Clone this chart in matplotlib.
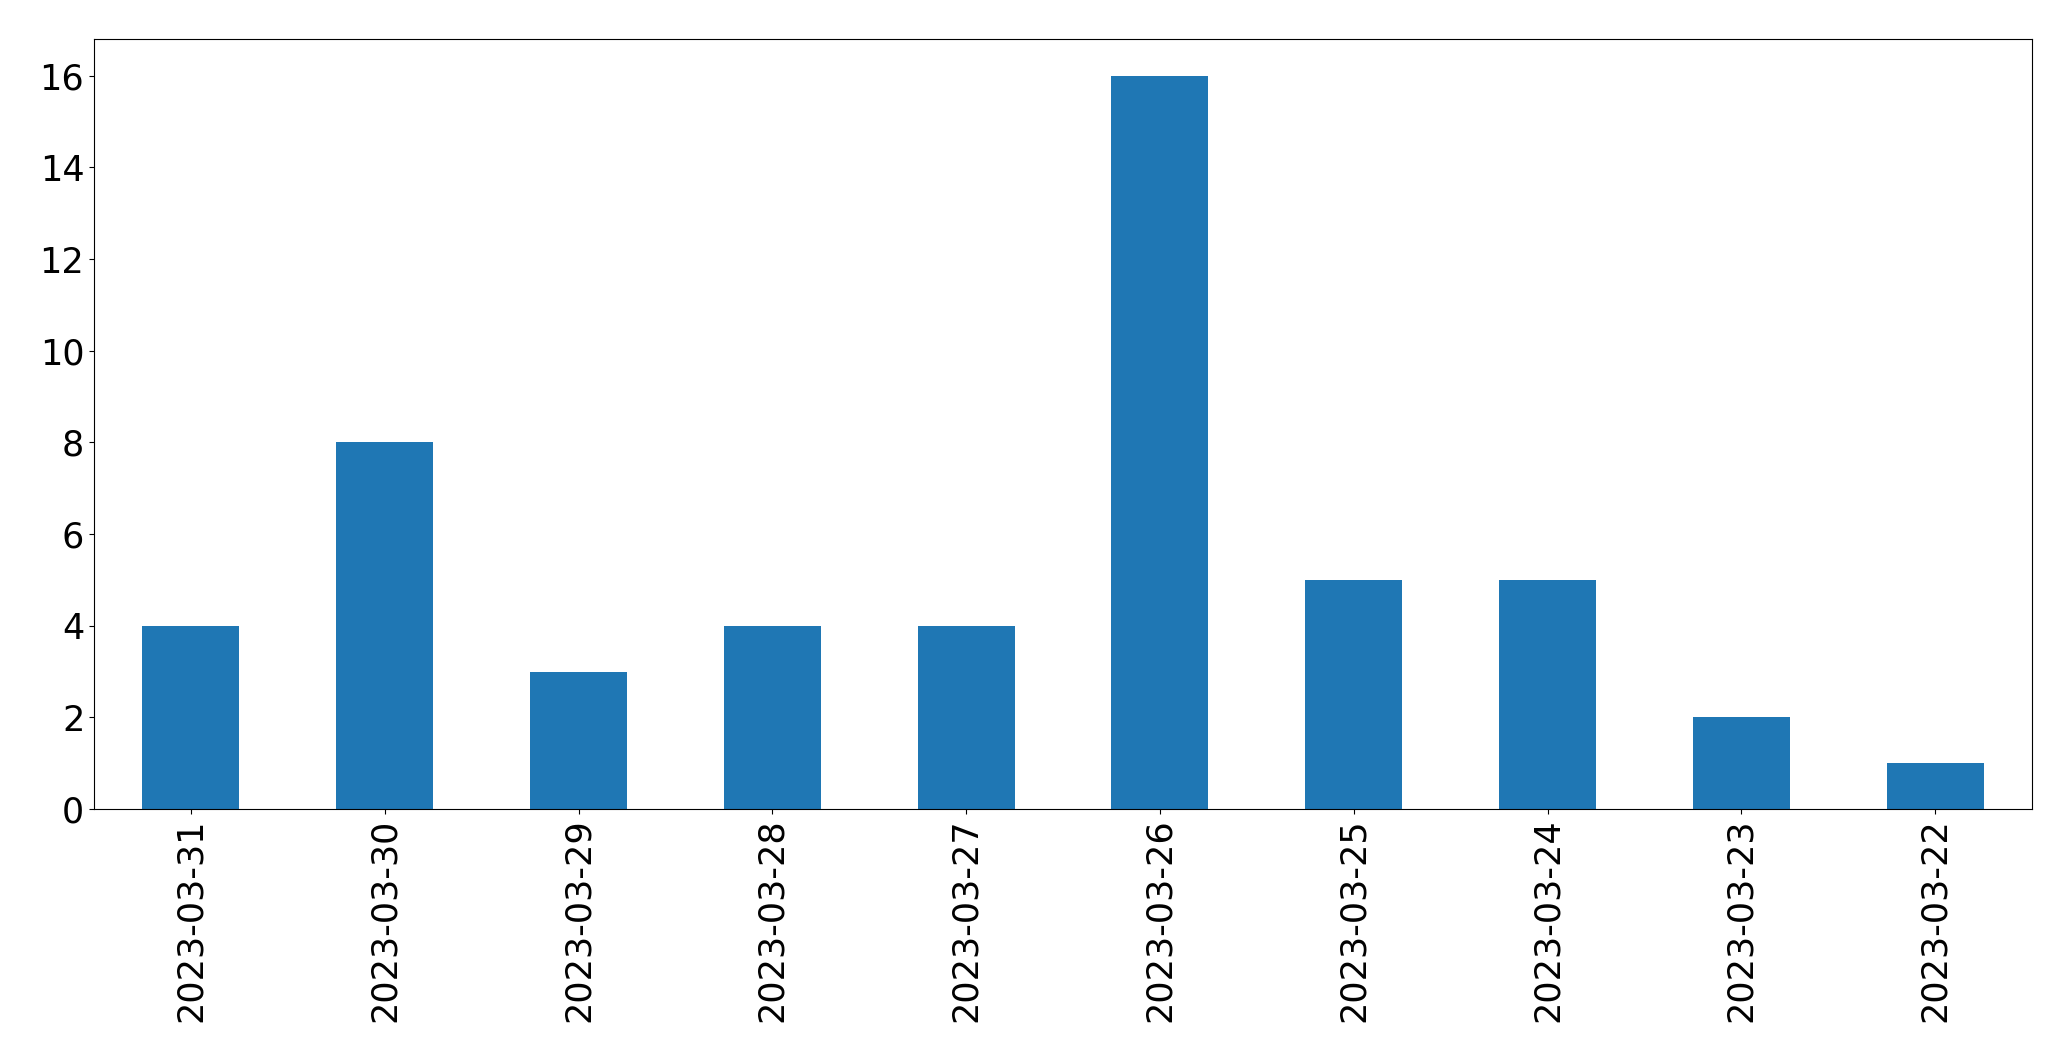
import matplotlib
matplotlib.use("Agg")
import matplotlib.pyplot as plt
import pandas as pd

fechas = ["2023-03-31", "2023-03-30", "2023-03-29", "2023-03-28", "2023-03-27",
          "2023-03-26", "2023-03-25", "2023-03-24", "2023-03-23", "2023-03-22"]
conteos = [4, 8, 3, 4, 4, 16, 5, 5, 2, 1]

serie = pd.Series(conteos, index=fechas)

fig, ax = plt.subplots(figsize=(20.71, 10.61), dpi=100)
serie.plot(kind="bar", ax=ax, color="#1f77b4")
ax.tick_params(axis="both", labelsize=25.2)
plt.subplots_adjust(left=0.0454, right=0.9812, top=0.9632, bottom=0.2375)
plt.savefig("out.png", dpi=100)
